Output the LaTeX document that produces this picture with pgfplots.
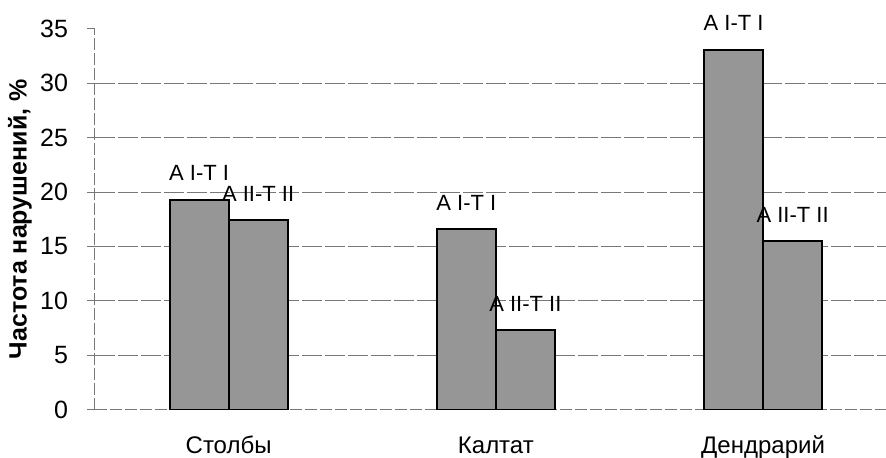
\documentclass[border=0pt]{standalone}
\usepackage{fontspec}
\setmainfont{Liberation Sans}
\usepackage{pgfplots}
\pgfplotsset{compat=1.18}
\definecolor{barfill}{RGB}{150,150,150}
\definecolor{gridgray}{RGB}{120,120,120}
\begin{document}
\begin{tikzpicture}
\useasboundingbox (-47.5pt,-24.15pt) rectangle (395.5pt,204.85pt);
\begin{axis}[
  at={(0,0)}, anchor=south west,
  scale only axis,
  width=395.5pt, height=190.4pt,
  xmin=-0.5, xmax=2.46,
  ymin=0, ymax=35,
  axis lines*=left,
  axis line style={-, draw=gridgray, line width=0.5pt, dash pattern=on 6pt off 1.5pt},
  ytick={0,5,...,35},
  extra y ticks={5,10,...,30},
  extra y tick labels={},
  extra y tick style={grid=major},
  major grid style={draw=gridgray, line width=0.5pt, dash pattern=on 10pt off 1.5pt},
  tick align=outside,
  ytick style={draw=gridgray, line width=0.5pt},
  major tick length=4pt,
  xtick={0,1,2},
  xticklabels={Столбы, Калтат, Дендрарий},
  xtick style={draw=none},
  xticklabel style={anchor=base, yshift=-18pt, font=\fontsize{12}{14}\selectfont},
  yticklabel style={font=\fontsize{12.5}{14}\selectfont, xshift=-6pt},
  /pgf/number format/assume math mode=true,
  ylabel={\bfseries Частота нарушений, \%},
  ylabel style={at={(axis description cs:-0.0948,0.5)}, anchor=center, font=\fontsize{12.5}{14}\selectfont},
  ybar=0pt,
  bar width=29.5pt,
  point meta=explicit symbolic,
  nodes near coords,
  nodes near coords style={anchor=south, inner sep=0pt, yshift=9pt, font=\fontsize{11}{13}\selectfont, text=black},
]
\addplot[draw=black, line width=1pt, fill=barfill] coordinates {(0,19.3) [A I-T I] (1,16.6) [A I-T I] (2,33.1) [A I-T I]};
\addplot[draw=black, line width=1pt, fill=barfill] coordinates {(0,17.4) [A II-T II] (1,7.3) [A II-T II] (2,15.5) [A II-T II]};
\end{axis}
\end{tikzpicture}
\end{document}
